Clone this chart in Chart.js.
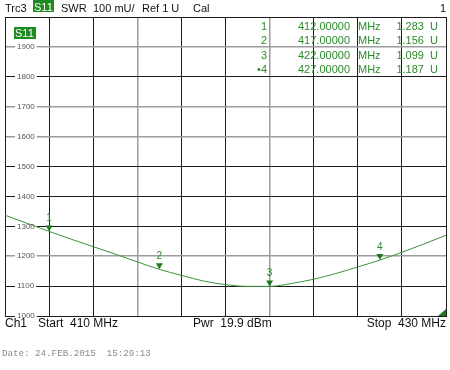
<!DOCTYPE html>
<html>
<head>
<meta charset="utf-8">
<script src="https://cdn.jsdelivr.net/npm/chart.js@4/dist/chart.umd.min.js"></script>
<style>
  html, body { margin: 0; padding: 0; background: #fff; }
  #chart_root { display: block; }
</style>
</head>
<body>
<canvas id="chart_root" width="450" height="370"></canvas>
<script>
// sweep 410..430 MHz, SWR in mU
const freqs = [410, 411, 412, 413, 414, 415, 416, 417, 418, 419, 420, 421, 422, 423, 424, 425, 426, 427, 428, 429, 430];
const swr = [1337, 1310, 1283, 1257, 1232, 1207, 1181, 1156, 1136, 1117, 1105, 1099, 1099, 1109, 1123, 1142, 1164, 1187, 1213, 1241, 1270];

const markerIds = ['1', '2', '3', '\u20224'];
const markerFreqs = [412, 417, 422, 427];
const markerValues = [1283, 1156, 1099, 1187];
const markerFreqText = ['412.00000', '417.00000', '422.00000', '427.00000'];
const markerValueText = ['1.283', '1.156', '1.099', '1.187'];

const grayX = [416, 422];
const grayY = [1200, 1600, 1700, 1900];

const GREEN = '#2b8a2b';
const DARK = '#1c1c1c';
const GRAY = '#9c9c9c';

const overlay = {
  id: 'overlay',
  afterDraw(chart) {
    const ctx = chart.ctx;
    const area = chart.chartArea;
    const xs = chart.scales.x;
    const ys = chart.scales.y;
    ctx.save();

    // header line
    ctx.font = '11px "Liberation Sans", Arial, sans-serif';
    ctx.textBaseline = 'alphabetic';
    ctx.textAlign = 'left';
    ctx.fillStyle = '#111';
    ctx.fillText('Trc3', 5, 12);
    ctx.fillStyle = '#1f8a1f';
    ctx.fillRect(33, 0, 21, 12);
    ctx.fillStyle = '#fff';
    ctx.fillText('S11', 34, 11);
    ctx.fillStyle = '#111';
    ctx.fillText('SWR', 61, 12);
    ctx.fillText('100 mU/', 93, 12);
    ctx.fillText('Ref 1 U', 142, 12);
    ctx.fillText('Cal', 193, 12);
    ctx.textAlign = 'right';
    ctx.fillText('1', 446, 12);

    // trace label in the plot
    ctx.textAlign = 'left';
    ctx.fillStyle = '#1f8a1f';
    ctx.fillRect(14, 27, 22, 12);
    ctx.fillStyle = '#fff';
    ctx.fillText('S11', 15, 37);

    // marker table
    ctx.fillStyle = GREEN;
    markerIds.forEach((id, i) => {
      const by = 30 + i * 14.4;
      ctx.textAlign = 'right';
      ctx.fillText(id, 267, by);
      ctx.fillText(markerFreqText[i], 350, by);
      ctx.fillText(markerValueText[i] + '  U', 438, by);
      ctx.textAlign = 'left';
      ctx.fillText('MHz', 358, by);
    });

    // markers on the trace
    ctx.font = '10px "Liberation Sans", Arial, sans-serif';
    ctx.textAlign = 'center';
    markerFreqs.forEach((f, i) => {
      const px = xs.getPixelForValue(f);
      const py = ys.getPixelForValue(markerValues[i]);
      ctx.fillStyle = '#1d7a1d';
      ctx.beginPath();
      ctx.moveTo(px - 3.5, py - 6);
      ctx.lineTo(px + 3.5, py - 6);
      ctx.lineTo(px, py);
      ctx.closePath();
      ctx.fill();
      ctx.fillStyle = GREEN;
      ctx.fillText(String(i + 1), px, py - 10);
    });

    // corner indicator
    ctx.fillStyle = '#1d7a1d';
    ctx.beginPath();
    ctx.moveTo(area.right, area.bottom - 7);
    ctx.lineTo(area.right, area.bottom);
    ctx.lineTo(area.right - 8, area.bottom);
    ctx.closePath();
    ctx.fill();

    // footer
    ctx.font = '12px "Liberation Sans", Arial, sans-serif';
    ctx.fillStyle = '#111';
    ctx.textAlign = 'left';
    ctx.fillText('Ch1', 5, 327);
    ctx.fillText('Start  410 MHz', 38, 327);
    ctx.fillText('Pwr  19.9 dBm', 193, 327);
    ctx.textAlign = 'right';
    ctx.fillText('Stop  430 MHz', 446, 327);

    ctx.font = '9.2px "Liberation Mono", monospace';
    ctx.fillStyle = '#8a8a8a';
    ctx.textAlign = 'left';
    ctx.fillText('Date: 24.FEB.2015  15:29:13', 2, 356);

    ctx.restore();
  }
};

const chartRootElt = document.getElementById('chart_root');

new Chart(chartRootElt, {
  type: 'line',
  data: {
    datasets: [
      {
        label: 'S11 SWR',
        data: freqs.map((f, i) => ({ x: f, y: swr[i] })),
        borderColor: '#3b913b',
        borderWidth: 1,
        pointRadius: 0,
        cubicInterpolationMode: 'monotone',
        fill: false
      }
    ]
  },
  options: {
    responsive: false,
    animation: false,
    events: [],
    layout: {
      padding: { left: 5, right: 4, top: 17, bottom: 54 }
    },
    plugins: {
      legend: { display: false },
      tooltip: { enabled: false }
    },
    scales: {
      x: {
        type: 'linear',
        min: 410,
        max: 430,
        afterFit: (s) => { s.height = 0; s.paddingLeft = 0; s.paddingRight = 0; },
        ticks: { display: false, stepSize: 2 },
        grid: {
          drawTicks: false,
          lineWidth: (c) => (grayX.includes(c.tick.value) ? 1.5 : 1),
          color: (c) => (grayX.includes(c.tick.value) ? GRAY : DARK)
        },
        border: { color: DARK, width: 1 }
      },
      y: {
        min: 1000,
        max: 2000,
        afterFit: (s) => { s.width = 0; s.paddingTop = 0; s.paddingBottom = 0; },
        ticks: {
          stepSize: 100,
          mirror: true,
          padding: 12,
          color: '#555',
          font: { size: 8, family: '"Liberation Sans", Arial, sans-serif' },
          showLabelBackdrop: true,
          backdropColor: (c) => (c.tick && c.tick.value === 2000 ? 'rgba(0,0,0,0)' : '#fff'),
          backdropPadding: { top: 0, bottom: 0, left: 2, right: 2 },
          callback: (v) => (v === 2000 ? '' : String(v))
        },
        grid: {
          drawTicks: false,
          lineWidth: (c) => (grayY.includes(c.tick.value) ? 1.5 : 1),
          color: (c) => (grayY.includes(c.tick.value) ? GRAY : DARK)
        },
        border: { color: DARK, width: 1 }
      }
    }
  },
  plugins: [overlay]
});
</script>
</body>
</html>
